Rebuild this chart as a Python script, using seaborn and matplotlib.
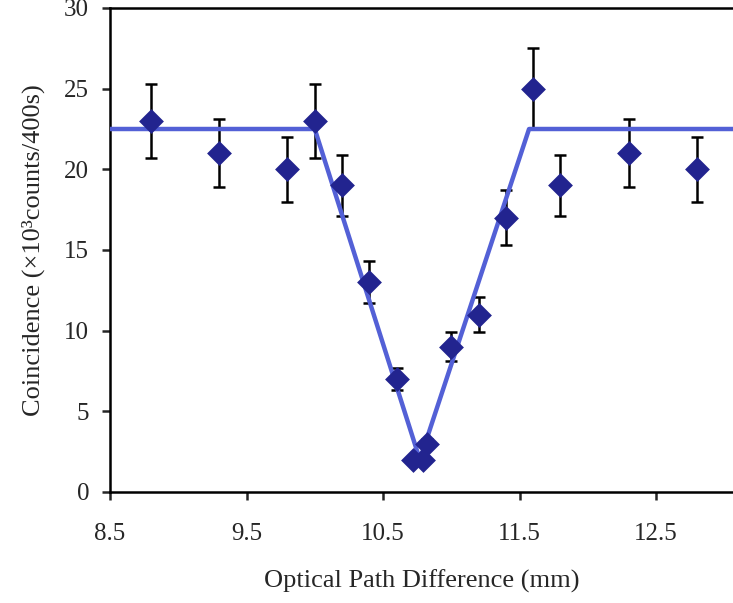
import matplotlib
matplotlib.use("Agg")
import matplotlib.pyplot as plt
import seaborn as sns
import numpy as np
import pandas as pd

# Data
opd_mm = [8.8, 9.3, 9.8, 10.0, 10.2, 10.4, 10.6, 10.72, 10.79, 10.82, 11.0, 11.2, 11.4, 11.6, 11.8, 12.3, 12.8]
coincidence = [23, 21, 20, 23, 19, 13, 7, 2, 2, 3, 9, 11, 17, 25, 19, 21, 20]
error = [2.3, 2.1, 2.0, 2.3, 1.9, 1.3, 0.7, 0.2, 0.2, 0.3, 0.9, 1.1, 1.7, 2.5, 1.9, 2.1, 2.0]

fit_x = [8.5, 10.0, 10.77, 11.57, 13.3]
fit_y = [22.5, 22.5, 2.0, 22.5, 22.5]

x_ticks = [8.5, 9.5, 10.5, 11.5, 12.5]
y_ticks = [0, 5, 10, 15, 20, 25, 30]

sns.set_style("ticks")
plt.rcParams['font.family'] = ['Liberation Serif', 'DejaVu Serif']

fig = plt.figure(figsize=(7.33, 6.03), dpi=100)
ax = fig.add_axes([110/733, 1-492/603, 1-110/733, (492-8)/603])

pts = pd.DataFrame({"x": opd_mm, "y": coincidence, "err": error})
fit = pd.DataFrame({"x": fit_x, "y": fit_y})

ax.errorbar(pts["x"], pts["y"], yerr=pts["err"], fmt="none", ecolor="black",
            elinewidth=1.8, capsize=4, capthick=1.8, zorder=2)
sns.lineplot(data=fit, x="x", y="y", ax=ax, color="#5360D6", linewidth=3.2,
             sort=False, zorder=3)
sns.scatterplot(data=pts, x="x", y="y", ax=ax, marker="D", s=160,
                color="#22248F", edgecolor="#22248F", linewidth=0, zorder=4)

ax.set_xlim(8.5, 8.5 + (733-110)/136.5)
ax.set_ylim(0, 30)
ax.set_xticks(x_ticks)
ax.set_xticklabels([f"{v}" for v in x_ticks])
ax.set_yticks(y_ticks)

ax.spines["right"].set_visible(False)
for s in ["left", "bottom", "top"]:
    ax.spines[s].set_linewidth(1.8)
    ax.spines[s].set_color("black")

ax.tick_params(axis="x", direction="out", length=6, width=1.8, labelsize=18, pad=16)
ax.tick_params(axis="y", direction="out", length=6, width=1.8, labelsize=18, pad=9)

ax.set_xlabel("Optical Path Difference (mm)", fontsize=19, labelpad=18)
ax.set_ylabel("Coincidence (×10³counts/400s)", fontsize=19, labelpad=14)

fig.savefig("out.png", dpi=100)
